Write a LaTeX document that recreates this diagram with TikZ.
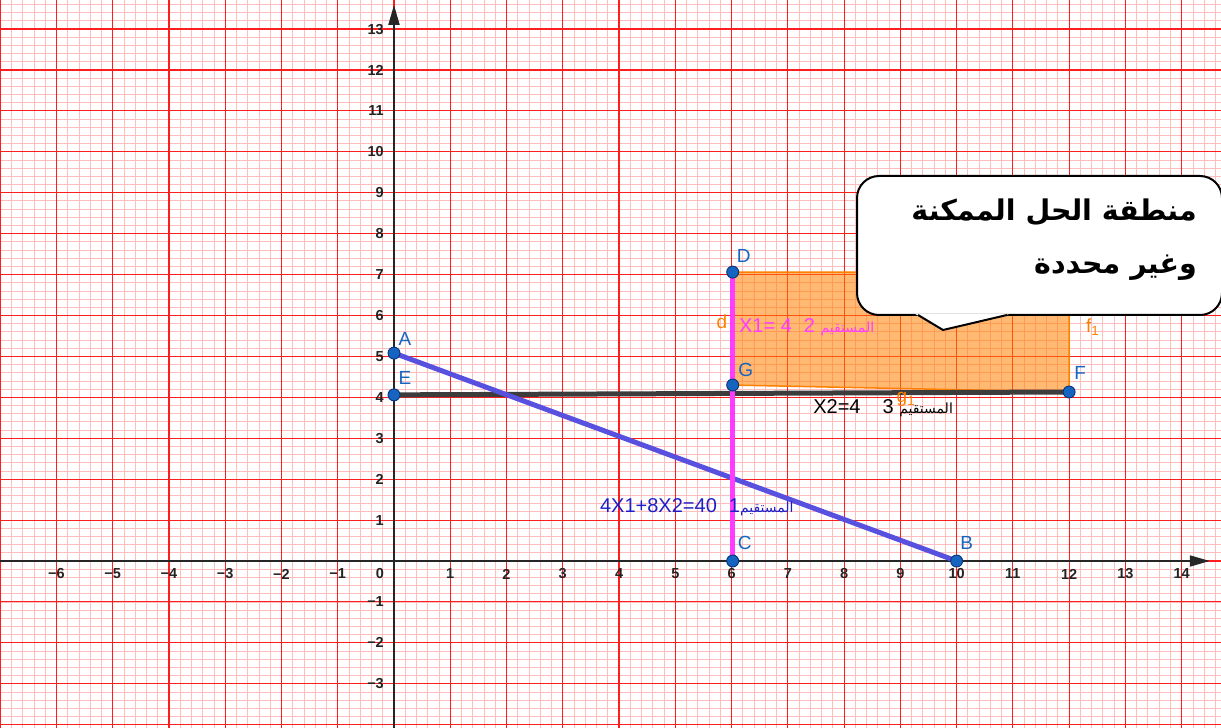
\documentclass[tikz,border=0pt]{standalone}
\usepackage{fontspec}
\setmainfont{Liberation Sans}
\newfontfamily\arabicfont[Script=Arabic]{DejaVu Sans}
\TeXXeTstate=1
\usetikzlibrary{arrows.meta}
\definecolor{gridmajor}{RGB}{255,30,30}
\definecolor{gridminor}{RGB}{255,190,190}
\definecolor{ptblue}{RGB}{21,101,192}
\definecolor{ptedge}{RGB}{10,50,120}
\definecolor{lineblue}{RGB}{88,80,222}
\definecolor{magentaL}{RGB}{255,60,255}
\definecolor{orangeF}{RGB}{255,128,0}
\definecolor{textblue}{RGB}{30,30,200}
\definecolor{ticktext}{RGB}{35,35,35}
\definecolor{grayL}{RGB}{60,60,60}
\tikzset{
  minorgrid/.style={draw=gridminor, line width=0.8pt},
  majorgrid/.style={draw=gridmajor, line width=1.1pt},
  axisline/.style={draw=black!85, line width=1.8pt, -{Triangle[length=20pt,width=11pt]}},
  tick/.style={font=\fontsize{14.5}{16}\selectfont\bfseries, text=ticktext, inner sep=1pt},
  ptnode/.style={circle, fill=ptblue, draw=ptedge, line width=0.9pt, inner sep=0pt, minimum size=12pt},
  ptlabel/.style={font=\fontsize{19}{21}\selectfont, text=ptblue, inner sep=0pt},
  orlabel/.style={font=\fontsize{19}{21}\selectfont, text=orangeF, inner sep=0pt},
  eqlabel/.style={font=\fontsize{20}{22}\selectfont, inner sep=0pt, anchor=west},
  calloutbox/.style={draw=black, fill=white, line width=2pt, rounded corners=22pt},
}
\begin{document}
\begin{tikzpicture}[x=56.26pt,y=40.92pt]
\useasboundingbox (-394pt,-167pt) rectangle (827pt,561pt);
\clip (-394pt,-167pt) rectangle (827pt,561pt);
% minor grid
\foreach \i in {-36,...,75} \draw[minorgrid] (\i/5,-4.3) -- (\i/5,13.9);
\foreach \j in {-22,...,70} \draw[minorgrid] (-7.2,\j/5) -- (14.9,\j/5);
% major grid
\foreach \i in {-7,...,14} \draw[majorgrid] (\i,-4.3) -- (\i,13.9);
\foreach \j in {-4,...,13} \draw[majorgrid] (-7.2,\j) -- (14.9,\j);
% axes
\coordinate (xstart) at (-7.2,0);
\coordinate (xend) at (14.5,0);
\coordinate (ystart) at (0,-4.3);
\coordinate (yend) at (0,13.59);
\draw[axisline] (xstart) -- (xend);
\draw[axisline] (ystart) -- (yend);
% tick labels
\foreach \i in {-6,-5,-4,-3,-2,-1,1,2,3,4,5,6,7,8,9,10,11,12,13,14}
  {\node[tick] (tx\i) at (\i,0) [yshift=-13pt] {\ifnum\i<0 −\number\numexpr-\i\relax\else\i\fi};}
\foreach \j in {-3,-2,-1,1,2,3,4,5,6,7,8,9,10,11,12,13}
  {\node[tick, anchor=east] (ty\j) at (0,\j) [xshift=-9pt] {\ifnum\j<0 −\number\numexpr-\j\relax\else\j\fi};}
\node[tick] (t0) at (-14pt,-13pt) {0};
% points
\coordinate (cA) at (0,5.08);
\coordinate (cB) at (10,0);
\coordinate (cC) at (6.02,0);
\coordinate (cD) at (6.02,7.06);
\coordinate (cE) at (0,4.06);
\coordinate (cF) at (12.0,4.13);
\coordinate (cG) at (6.02,4.30);
\coordinate (cH) at (12.0,7.06);
% feasible region
\draw[draw=orangeF, line width=1.5pt, fill=orangeF, fill opacity=0.55] (cD) -- (cH) -- (cF) -- (cG) -- cycle;
% lines
\draw[draw=grayL, line width=5pt] (cE) -- (cF);
\draw[draw=lineblue, line width=5pt] (cA) -- (cB);
\draw[draw=magentaL, line width=5pt] (cC) -- (cD);
% point nodes
\foreach \p in {A,B,C,D,E,F,G} {\node[ptnode] (\p) at (c\p) {};}
\node[ptlabel] (lA) at (cA) [xshift=11pt, yshift=14pt] {A};
\node[ptlabel] (lE) at (cE) [xshift=11pt, yshift=17pt] {E};
\node[ptlabel] (lD) at (cD) [xshift=11pt, yshift=16pt] {D};
\node[ptlabel] (lG) at (cG) [xshift=13pt, yshift=15pt] {G};
\node[ptlabel] (lF) at (cF) [xshift=11pt, yshift=19pt] {F};
\node[ptlabel] (lC) at (cC) [xshift=12pt, yshift=18pt] {C};
\node[ptlabel] (lB) at (cB) [xshift=10pt, yshift=18pt] {B};
% object labels
\node[orlabel] (ld) at (5.83,5.84) {d};
\node[orlabel] (lf) at (12.42,5.72) {f$_{\mathrm{1}}$};
\node[orlabel] (lg) at (9.1,3.95) {g$_{\mathrm{1}}$};
% equation texts
\node[eqlabel, text=magentaL] (eq2) at (6.13,5.72) {X1= 4\hspace{12pt}2 {\arabicfont\fontsize{14}{16}\selectfont\beginR المستقيم\endR}};
\node[eqlabel, text=black] (eq3) at (7.45,3.74) {X2=4\hspace{22pt}3 {\arabicfont\fontsize{14}{16}\selectfont\beginR المستقيم\endR}};
\node[eqlabel, text=textblue] (eq1) at (3.66,1.32) {4X1+8X2=40\hspace{12pt}1{\arabicfont\fontsize{14}{16}\selectfont\beginR المستقيم\endR}};
% callout
\draw[calloutbox] (463pt,246pt) rectangle (828pt,385pt);
\fill[white] (521pt,247.2pt) -- (549pt,230pt) -- (616pt,247.2pt) -- cycle;
\coordinate (pL) at (524pt,246pt);
\coordinate (pT) at (549pt,231pt);
\coordinate (pR) at (613pt,246pt);
\draw[line width=2pt, line join=round] (pL) -- (pT) -- (pR);
\node[anchor=east, align=right, inner sep=0pt, font=\arabicfont\bfseries\fontsize{28.5}{53}\selectfont] (note) at (803pt,321pt)
  {\beginR منطقة الحل الممكنة\endR\\\beginR وغير محددة\endR};
\end{tikzpicture}
\end{document}
